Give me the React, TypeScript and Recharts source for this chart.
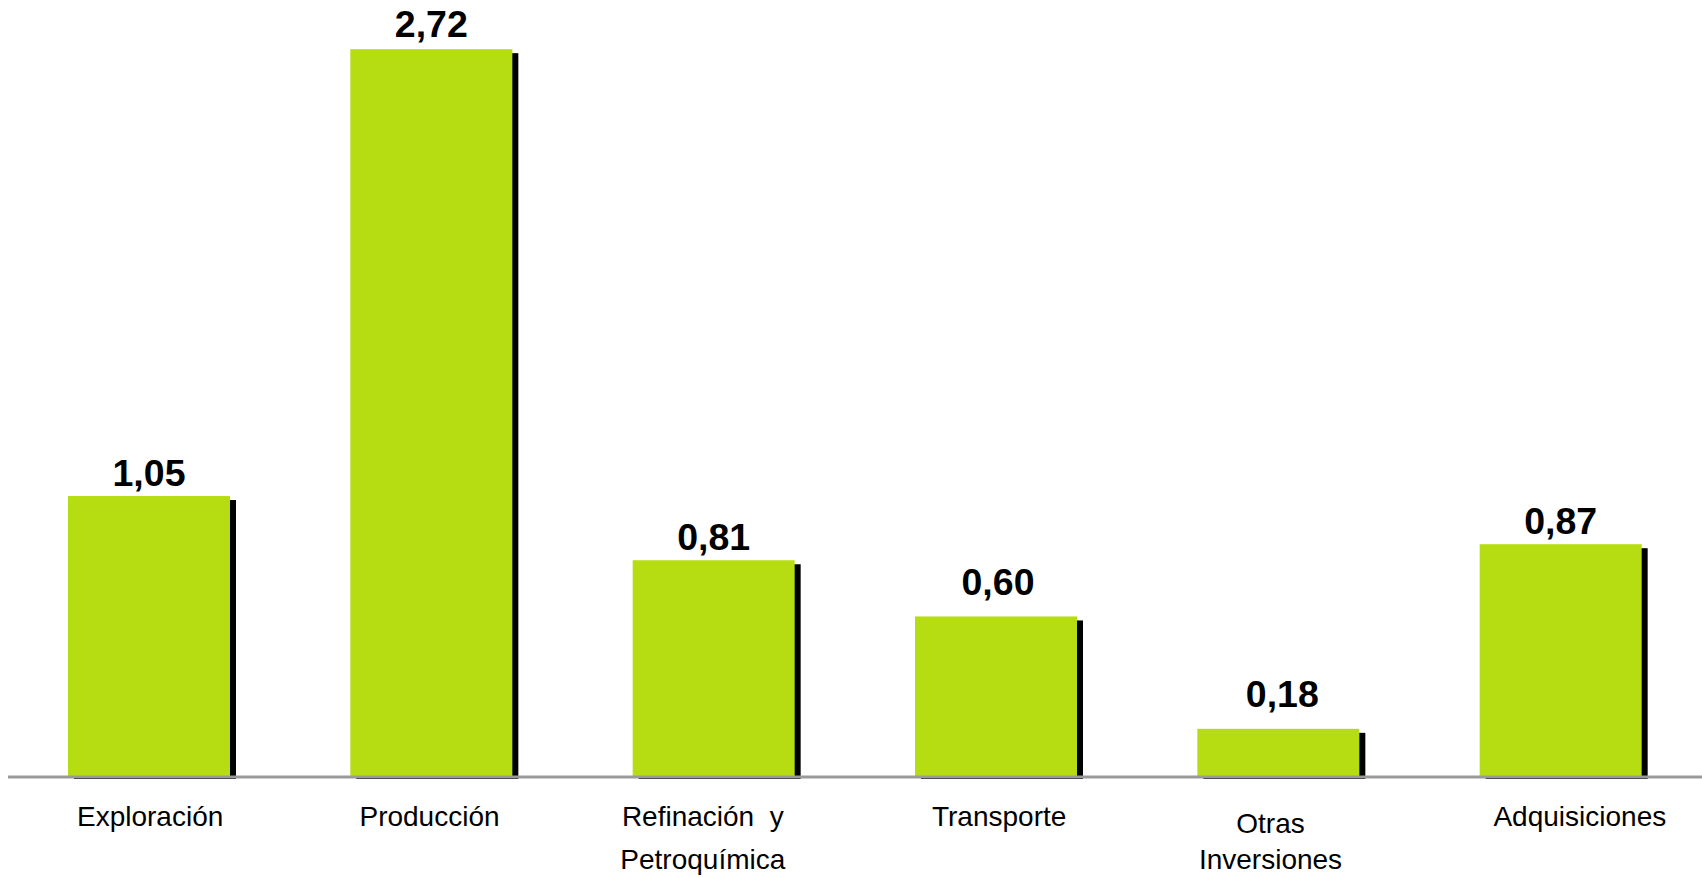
import React from 'react';
import { BarChart, Bar, XAxis, YAxis, LabelList } from 'recharts';

const categories = ['Exploración', 'Producción', 'Refinación y Petroquímica', 'Transporte', 'Otras Inversiones', 'Adquisiciones'];
const values = [1.05, 2.72, 0.81, 0.6, 0.18, 0.87];
const valueLabels = ['1,05', '2,72', '0,81', '0,60', '0,18', '0,87'];
const tickLines = [
  ['Exploración'],
  ['Producción'],
  ['Refinación  y', 'Petroquímica'],
  ['Transporte'],
  ['Otras', 'Inversiones'],
  ['Adquisiciones'],
];

const data = categories.map((c, i) => ({ name: c, value: values[i], label: valueLabels[i], idx: i }));

const FONT = '"Liberation Sans", Arial, Helvetica, sans-serif';
const GREEN = '#b6dc12';

const ShadowBar = (props: any) => {
  const { x, y, width, height } = props;
  if (height <= 0) return null;
  return (
    <g>
      <rect x={x + 6} y={y + 4} width={width} height={height - 2} fill="#000" />
      <rect x={x} y={y} width={width} height={height} fill={GREEN} />
    </g>
  );
};

// layout only: per-label vertical / horizontal nudges
const labelDy = [0, -2, 0, -11, -11, 0];
const labelDx = [0, 0, 0, 2, 4, 0];

const ValueLabel = (props: any) => {
  const { x, y, width, index } = props;
  return (
    <text
      x={x + width / 2 + (labelDx[index] || 0)}
      y={y - 10.5 + (labelDy[index] || 0)}
      textAnchor="middle"
      fontFamily={FONT}
      fontWeight="bold"
      fontSize={37.5}
      fill="#000"
    >
      {valueLabels[index]}
    </text>
  );
};

const lineOffsets = (idx: number, n: number) => {
  if (n === 1) return [49];
  if (idx === 4) return [56, 92];
  return [49, 92];
};
const tickNudge = [1, -2, -11, 3, -8, 19];

const CatTick = (props: any) => {
  const { x, payload, index } = props;
  const i = typeof index === 'number' ? index : categories.indexOf(payload.value);
  const lines = tickLines[i] || [payload.value];
  const offs = lineOffsets(i, lines.length);
  const axisY = 777;
  return (
    <g>
      {lines.map((ln, k) => (
        <text
          key={k}
          x={x + (tickNudge[i] || 0)}
          y={axisY + offs[k]}
          textAnchor="middle"
          fontFamily={FONT}
          fontSize={28}
          fill="#000"
          style={{ whiteSpace: 'pre' }}
        >
          {ln}
        </text>
      ))}
    </g>
  );
};

export default function App() {
  return (
    <div style={{ position: 'absolute', left: 0, top: 0, width: 1702, height: 878, background: '#fff', overflow: 'hidden' }}>
      <BarChart
        width={1702}
        height={878}
        data={data}
        margin={{ top: 1, right: 0, bottom: 0, left: 8 }}
        barSize={162}
      >
        <XAxis
          dataKey="name"
          axisLine={{ stroke: '#9a9a9a', strokeWidth: 3 }}
          tickLine={false}
          height={101}
          interval={0}
          tick={<CatTick />}
        />
        <YAxis hide domain={[0, 2.9]} />
        <Bar dataKey="value" shape={<ShadowBar />} isAnimationActive={false}>
          <LabelList dataKey="label" content={<ValueLabel />} />
        </Bar>
      </BarChart>
    </div>
  );
}
